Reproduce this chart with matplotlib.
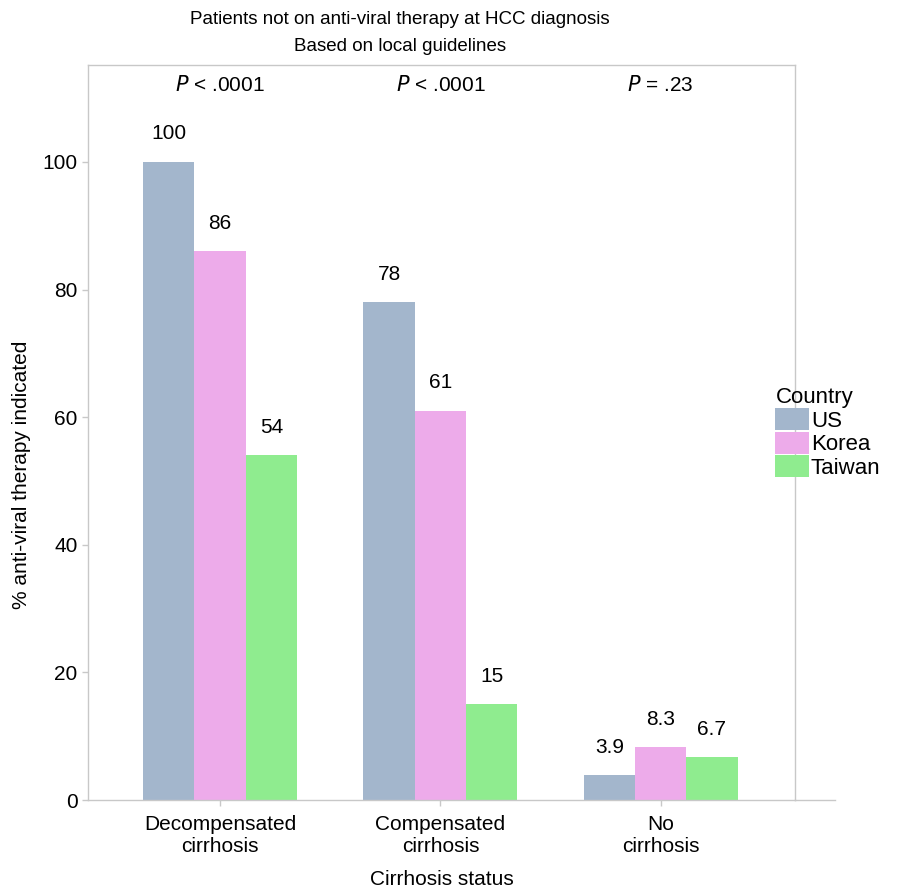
"""Bar chart: patients not on anti-viral therapy at HCC diagnosis."""

import matplotlib

matplotlib.use("Agg")

import matplotlib.pyplot as plt
import numpy as np
from matplotlib.patches import Patch

plt.rcParams["font.family"] = ["Liberation Sans", "DejaVu Sans"]

categories = ["Decompensated\ncirrhosis", "Compensated\ncirrhosis", "No\ncirrhosis"]
countries = ["US", "Korea", "Taiwan"]
us_vals = [100, 78, 3.9]
korea_vals = [86, 61, 8.3]
taiwan_vals = [54, 15, 6.7]
p_labels = ["< .0001", "< .0001", "= .23"]

colors = ["#a3b6cc", "#edabea", "#8fec8f"]
frame_col = "#c8c8c8"
fs = 15

fig = plt.figure(figsize=(9.09, 8.94), dpi=100)
ax = fig.add_axes([0.0968, 0.1051, 0.7778, 0.8222])

x = np.arange(len(categories))
width = 0.233
series = [us_vals, korea_vals, taiwan_vals]
for i, (vals, col) in enumerate(zip(series, colors)):
    pos = x + (i - 1) * width
    ax.bar(pos, vals, width=width, color=col, edgecolor="none")
    for xp, v in zip(pos, vals):
        ax.text(xp, v + 4.4, f"{v:g}", ha="center", va="center", fontsize=fs)

for xp, p in zip(x, p_labels):
    ax.text(xp, 112, f"$\\it{{P}}$ {p}", ha="center", va="center", fontsize=fs)

ax.set_xlim(-0.6, 2.61)
ax.set_ylim(0, 115.2)
ax.set_xticks(x)
ax.set_xticklabels(categories, fontsize=fs, linespacing=1.2)
ax.set_yticks([0, 20, 40, 60, 80, 100])
ax.tick_params(axis="both", colors=frame_col, labelcolor="black", length=4, width=1, labelsize=fs)
ax.tick_params(axis="x", pad=7)
for s in ax.spines.values():
    s.set_color(frame_col)
    s.set_linewidth(1)
# bottom axis line runs a little beyond the frame
ax.plot([1, 1.057], [0, 0], transform=ax.transAxes, color=frame_col, lw=1, clip_on=False)

ax.set_xlabel("Cirrhosis status", fontsize=fs, labelpad=10)
ax.set_ylabel("% anti-viral therapy indicated", fontsize=fs)
ax.yaxis.set_label_coords(-0.081, 0.442)

fig.text(0.44, 0.978, "Patients not on anti-viral therapy at HCC diagnosis",
         ha="center", va="center", fontsize=13.5)
fig.text(0.44, 0.948, "Based on local guidelines", ha="center", va="center", fontsize=13.5)

handles = [Patch(facecolor=c, edgecolor="none") for c in colors]
leg = fig.legend(handles, countries, title="Country", loc="upper left",
                 bbox_to_anchor=(0.853, 0.567), frameon=False, fontsize=16,
                 title_fontsize=16, handlelength=1.5, handleheight=1.15,
                 handletextpad=0.1, labelspacing=0.0, borderaxespad=0, borderpad=0)
leg._legend_box.align = "left"

fig.savefig("out.png", dpi=100)
